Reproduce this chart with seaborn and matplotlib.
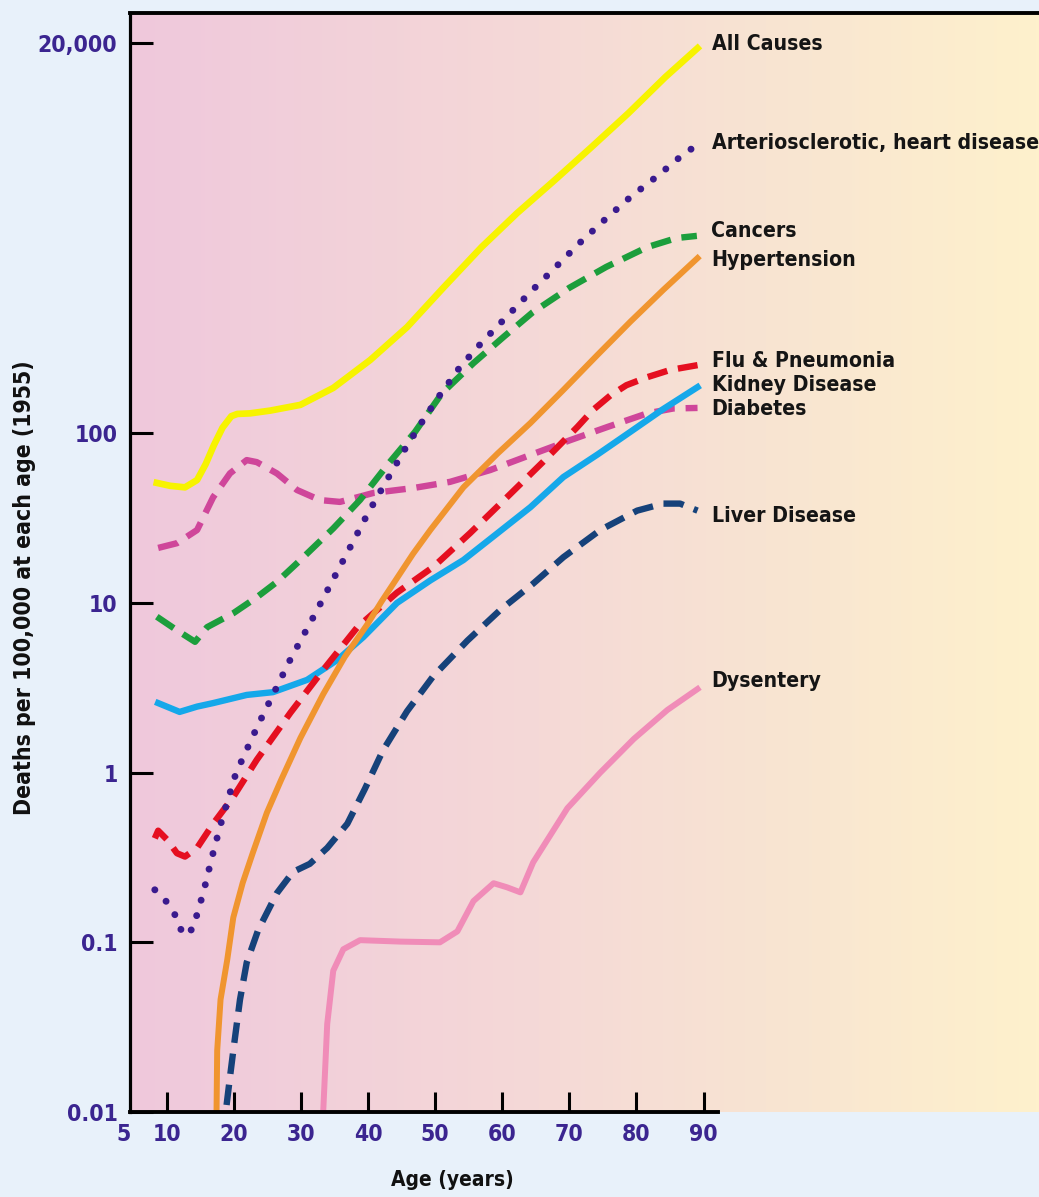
import numpy as np
import matplotlib.pyplot as plt
import seaborn as sns
from matplotlib.colors import LinearSegmentedColormap
from matplotlib.ticker import NullLocator
from matplotlib.transforms import ScaledTranslation
from matplotlib import font_manager

# values (age in years, deaths per 100,000)
all_age = [8.5, 10.5, 12.7, 14.5, 15.8, 17.0, 18.3, 19.6, 20.5, 22.4, 25.4, 29.9, 34.8,
           40.3, 45.8, 51.3, 56.9, 62.2, 67.8, 73.3, 78.8, 84.3, 89.1]
all_val = [51, 49, 48, 53, 66, 85, 108, 126, 130, 131, 136, 147, 185,
           270, 422, 727, 1250, 1983, 3100, 4860, 7700, 12560, 18600]

art_age = [8.2, 10.1, 11.5, 12.4, 14.0, 14.6, 15.4, 16.0, 17.0, 18.2, 20.1, 21.2, 23.6,
           25.8, 28.5, 31.6, 34.5, 37.1, 40.0, 42.8, 45.4, 48.4, 50.7, 53.7, 57.0, 60.6,
           64.2, 67.8, 71.5, 75.2, 79.1, 83.3, 87.2, 89.1]
art_val = [0.204, 0.171, 0.139, 0.110, 0.121, 0.153, 0.193, 0.243, 0.35, 0.526, 0.94, 1.19, 1.91,
           2.87, 4.73, 7.93, 13.1, 20.5, 33.9, 53, 79.6, 123, 168, 246, 345, 484,
           680, 940, 1320, 1803, 2466, 3325, 4480, 4990]

can_age = [8.5, 11.5, 14.2, 16.0, 19.9, 23.4, 26.4, 29.9, 34.8, 38.8, 43.0, 47.0, 51.0,
           55.7, 60.2, 64.5, 70.0, 75.5, 81.6, 86.0, 89.0]
can_val = [8.3, 6.9, 5.9, 7.2, 8.7, 10.8, 13.3, 17.9, 27.5, 40.5, 66, 102, 172,
           259, 370, 515, 720, 956, 1250, 1415, 1456]

hyp_age = [17.4, 17.5, 18.0, 19.0, 19.9, 21.3, 22.8, 24.9, 27.0, 29.9, 33.3, 36.5, 39.9,
           42.0, 44.3, 46.7, 49.3, 54.2, 59.3, 64.2, 69.1, 74.2, 79.1, 84.0, 89.1]
hyp_val = [0.01, 0.023, 0.046, 0.079, 0.14, 0.224, 0.336, 0.58, 0.9, 1.6, 2.9, 4.8, 7.5,
           10.2, 14, 19.5, 27, 48, 76, 115, 180, 290, 455, 700, 1077]

flu_age = [8.2, 8.7, 10.1, 11.5, 12.7, 14.5, 16.9, 19.9, 23.4, 28.4, 33.3, 38.4, 44.3,
           49.7, 55.2, 60.7, 66.1, 71.2, 73.5, 76.1, 78.5, 81.6, 85.0, 89.1]
flu_val = [0.41, 0.455, 0.40, 0.335, 0.32, 0.36, 0.5, 0.72, 1.19, 2.25, 4.03, 7.2, 11.5,
           16.3, 25.8, 42, 68, 109, 137, 167, 192, 214, 236, 252]

kid_age = [8.7, 11.9, 14.5, 16.9, 21.9, 25.8, 30.9, 35.4, 39.3, 44.3, 49.3, 54.2, 59.3,
           64.2, 69.1, 74.2, 79.1, 84.0, 89.1]
kid_val = [2.57, 2.28, 2.45, 2.57, 2.87, 2.98, 3.52, 4.61, 6.3, 10, 13.6, 17.9, 25.8,
           36.7, 55.2, 75, 102, 139, 187]

dia_age = [8.7, 11.5, 14.5, 16.9, 19.4, 21.9, 23.4, 26.4, 29.4, 32.8, 35.8, 40.8, 46.8,
           52.2, 58.2, 64.2, 70.1, 75.7, 81.6, 85.5, 89.1]
dia_val = [21.1, 22.5, 26.9, 42, 58, 69.5, 67.6, 58, 46.3, 40.4, 39.4, 44.5, 47.6,
           51.7, 60.7, 74.5, 91, 109, 131, 140, 141]

liv_age = [18.9, 19.4, 19.9, 20.9, 21.9, 23.6, 26.4, 28.8, 31.3, 33.9, 36.9, 39.5, 42.2,
           45.8, 49.7, 54.8, 59.7, 64.6, 69.1, 74.6, 80.1, 84.0, 86.5, 89.1]
liv_val = [0.011, 0.016, 0.023, 0.046, 0.076, 0.118, 0.195, 0.26, 0.29, 0.36, 0.5, 0.8, 1.35,
           2.3, 3.7, 6.0, 9.1, 13.0, 18.6, 26.9, 35, 38.5, 38.5, 35]

dys_age = [33.3, 33.9, 34.8, 36.3, 38.8, 44.8, 50.7, 53.3, 55.7, 58.7, 60.7, 62.7, 64.6,
           69.7, 74.6, 79.6, 84.6, 89.1]
dys_val = [0.01, 0.033, 0.068, 0.091, 0.103, 0.101, 0.1, 0.116, 0.175, 0.223, 0.211, 0.197, 0.296,
           0.617, 1.0, 1.58, 2.34, 3.11]

x_ticks = [5, 10, 20, 30, 40, 50, 60, 70, 80, 90]
y_ticks = [0.01, 0.1, 1, 10, 100, 20000]
y_tick_labels = ['0.01', '0.1', '1', '10', '100', '20,000']

plt.rcParams['font.family'] = ['DejaVu Sans']
plt.rcParams['font.stretch'] = 'condensed'
bold = font_manager.FontProperties(family='DejaVu Sans', stretch='condensed', weight='bold')
purple = '#3b2590'

fig = plt.figure(figsize=(10.39, 11.97), dpi=100, facecolor='#e8f1fa')
pos = [0.1251, 0.0710, 0.8749, 0.9182]

# background gradient pink -> pale yellow
bg = fig.add_axes(pos, zorder=0)
cmap = LinearSegmentedColormap.from_list(
    'bg', [(0, '#efc8dc'), (0.45, '#f5d9d7'), (0.7, '#f8e4d2'), (1, '#fef1cc')])
bg.imshow(np.linspace(0, 1, 256)[None, :], cmap=cmap, aspect='auto', extent=[0, 1, 0, 1])
bg.axis('off')

ax = fig.add_axes(pos, zorder=1)
ax.set_facecolor('none')

dash = (0, (3.2, 1.7))
dots = (0, (0.01, 2.3))
# name, ages, values, color, width, style, label offset (px)
series = [
    ('Dysentery', dys_age, dys_val, '#f08cb8', 4.3, '-', 8),
    ('Liver Disease', liv_age, liv_val, '#16427a', 4.6, dash, -5),
    ('Diabetes', dia_age, dia_val, '#cf469a', 4.6, dash, -1),
    ('Kidney Disease', kid_age, kid_val, '#15a8ea', 4.6, '-', 2),
    ('Flu & Pneumonia', flu_age, flu_val, '#e50f20', 4.6, dash, 4),
    ('Hypertension', hyp_age, hyp_val, '#f0952f', 4.3, '-', -2),
    ('Cancers', can_age, can_val, '#1c9e3c', 4.6, dash, 5),
    ('Arteriosclerotic, heart disease', art_age, art_val, '#3a1a8e', 5.0, dots, 2),
    ('All Causes', all_age, all_val, '#f7f300', 4.8, '-', 4),
]

for name, ages, vals, color, lw, ls, dy in series:
    kw = {'dash_capstyle': 'round'} if ls is dots else {}
    sns.lineplot(x=ages, y=vals, ax=ax, color=color, linewidth=lw, linestyle=ls,
                 estimator=None, sort=False, legend=False, solid_joinstyle='round', **kw)
    ax.annotate(name, xy=(ages[-1], vals[-1]), xytext=(14, dy), textcoords='offset pixels',
                ha='left', va='center', fontproperties=bold, fontsize=15.2, color='#151515',
                annotation_clip=False)

ax.set_yscale('log')
ax.set_xlim(4.5, 140)
ax.set_ylim(0.01, 30000)
ax.set_xticks(x_ticks)
ax.set_yticks(y_ticks)
ax.set_yticklabels(y_tick_labels)
ax.yaxis.set_minor_locator(NullLocator())
ax.xaxis.get_major_ticks()[0].tick1line.set_visible(False)

ax.tick_params(axis='both', direction='in', width=2.2, color='black',
               labelcolor=purple)
ax.tick_params(axis='y', length=16.5, pad=9)
ax.tick_params(axis='x', length=14.5, pad=8)
for lbl in ax.get_xticklabels() + ax.get_yticklabels():
    lbl.set_fontproperties(bold)
    lbl.set_fontsize(16.5)
first = ax.get_xticklabels()[0]
first.set_transform(first.get_transform() + ScaledTranslation(-0.1, 0, fig.dpi_scale_trans))

ax.spines['right'].set_visible(False)
ax.spines['left'].set_linewidth(2.3)
ax.spines['top'].set_linewidth(2.8)
ax.spines['bottom'].set_linewidth(2.8)
ax.spines['bottom'].set_bounds(4.5, 92.2)

ax.set_xlabel('Age (years)', fontproperties=bold, fontsize=15, color='#111111')
ax.xaxis.set_label_coords(0.355, -0.053)
ax.set_ylabel('Deaths per 100,000 at each age (1955)', fontproperties=bold, fontsize=16.5,
              color='#111111')
ax.yaxis.set_label_coords(-0.1155, 0.477)
ax.yaxis.label.set_va('center')

plt.savefig('out.png', dpi=100, facecolor=fig.get_facecolor())
